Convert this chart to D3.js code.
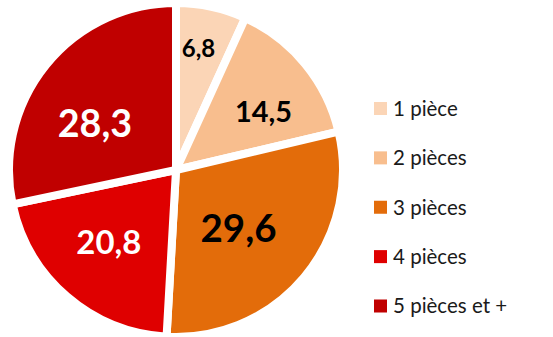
<!DOCTYPE html>
<html><head><meta charset="utf-8">
<script src="https://cdn.jsdelivr.net/npm/d3@7"></script>
<style>body{margin:0;background:#fff}svg{display:block}</style>
</head><body>
<svg id="c" width="553" height="337"></svg>
<script>
const categories = ["1 pièce", "2 pièces", "3 pièces", "4 pièces", "5 pièces et +"];
const values = [6.8, 14.5, 29.6, 20.8, 28.3];
const labels = ["6,8", "14,5", "29,6", "20,8", "28,3"];
const colors = ["#FBD5B6", "#F8BE8E", "#E36C0A", "#DF0000", "#C00000"];
const labelColors = ["#000", "#000", "#000", "#fff", "#fff"];

const W = 553, H = 337;
const cx = 176, cy = 170, R = 167;
const labelRadiusFrac = [0.74, 0.63, 0.51, 0.59, 0.56];
const labelAngleShift = [-0.03, 0.1, 0.05, 0.04, -0.16];

const svg = d3.select("#c");
const data = categories.map((c, i) => ({cat: c, value: values[i], label: labels[i], i}));
const pie = d3.pie().value(d => d.value).sort(null);
const arcs = pie(data);
const arc = d3.arc().innerRadius(0).outerRadius(R);
const fontScale = d3.scaleLinear().domain([6.8, 29.6]).range([24, 38.5]);

const g = svg.append("g").attr("transform", `translate(${cx},${cy})`);
g.selectAll("path").data(arcs).join("path")
  .attr("d", arc)
  .attr("fill", d => colors[d.data.i])
  .attr("stroke", "#fff")
  .attr("stroke-width", 8)
  .attr("stroke-linejoin", "miter");

g.selectAll("text").data(arcs).join("text")
  .attr("transform", d => {
    const a = (d.startAngle + d.endAngle) / 2 + labelAngleShift[d.data.i];
    const r = R * labelRadiusFrac[d.data.i];
    return `translate(${r * Math.sin(a)},${-r * Math.cos(a)})`;
  })
  .attr("text-anchor", "middle")
  .attr("dy", "0.36em")
  .attr("font-family", "Lato, 'Open Sans', sans-serif")
  .attr("font-weight", "bold")
  .attr("font-size", d => fontScale(d.data.value))
  .attr("fill", d => labelColors[d.data.i])
  .text(d => d.data.label);

const y = d3.scalePoint().domain(categories).range([108.5, 306]);
const leg = svg.append("g");
const items = leg.selectAll("g").data(categories).join("g")
  .attr("transform", d => `translate(374,${y(d)})`);
items.append("rect").attr("x", 0).attr("y", -6.5).attr("width", 13).attr("height", 13)
  .attr("fill", (d, i) => colors[i]);
items.append("text").attr("x", 19).attr("dy", "0.36em")
  .attr("font-family", "Lato, 'Open Sans', sans-serif")
  .attr("font-size", 20.5).attr("fill", "#1a1a1a")
  .text(d => d);
</script>
</body></html>
